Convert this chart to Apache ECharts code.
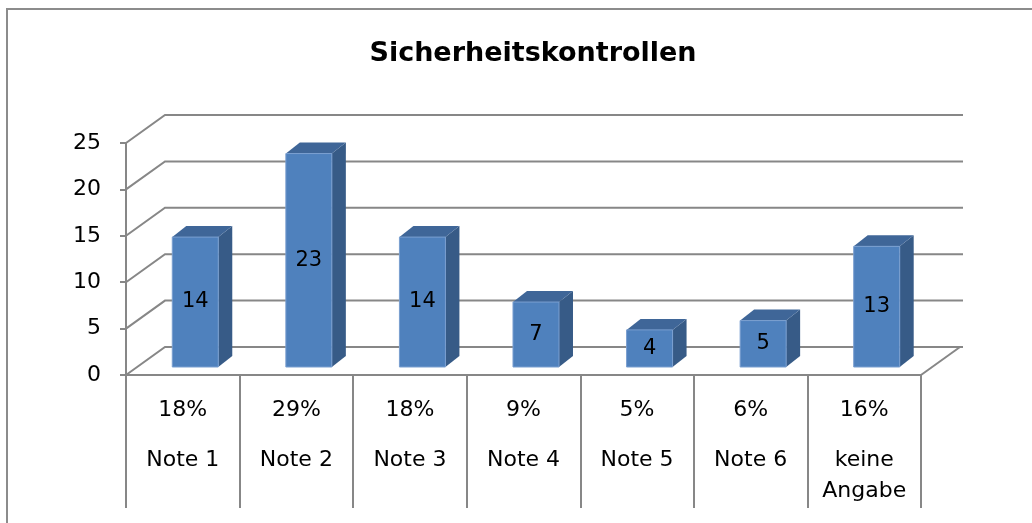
<!DOCTYPE html>
<html>
<head>
<meta charset="utf-8">
<script src="https://cdn.jsdelivr.net/npm/echarts@6/dist/echarts.min.js"></script>
<style>
  html, body { margin: 0; padding: 0; background: #fff; }
  #chart { width: 1032px; height: 523px; }
</style>
</head>
<body>
<div id="chart"></div>
<script>
// data
const categories = ['Note 1', 'Note 2', 'Note 3', 'Note 4', 'Note 5', 'Note 6', 'keine\nAngabe']
const counts = [14, 23, 14, 7, 4, 5, 13]
const percents = ['18%', '29%', '18%', '9%', '5%', '6%', '16%']
const yTicks = [0, 5, 10, 15, 20, 25]

const FONT = 'DejaVu Sans'
const GREY = '#878787'
// depth of the back wall / bars (pseudo 3d)
const WALL_DX = 39, WALL_DY = -28
const BAR_DX = 14, BAR_DY = -11

const myChart = echarts.init(document.getElementById('chart'))

function wallItem(params, api) {
  const cs = params.coordSys
  const y = api.coord([0, api.value(1)])[1]
  const children = [{
    type: 'polyline',
    shape: {
      points: [[cs.x, y], [cs.x + WALL_DX, y + WALL_DY], [cs.x + cs.width + WALL_DX + 3, y + WALL_DY]]
    },
    style: { stroke: GREY, lineWidth: 2, fill: null }
  }]
  if (api.value(1) === 0) {
    children.push({
      type: 'line',
      shape: { x1: cs.x + cs.width, y1: y, x2: cs.x + cs.width + WALL_DX, y2: y + WALL_DY },
      style: { stroke: GREY, lineWidth: 2 }
    })
  }
  return { type: 'group', children: children }
}

function barItem(params, api) {
  const idx = api.value(0)
  const val = api.value(1)
  const base = api.coord([idx, 0])
  const top = api.coord([idx, val])
  const w = api.size([1, 0])[0]
  const bw = w * 0.405
  const x0 = base[0] + w * 0.11 - bw / 2
  const x1 = x0 + bw
  const yb = base[1] - 8
  const yt = top[1] - 8
  return {
    type: 'group',
    children: [
      {
        type: 'polygon',
        shape: { points: [[x1, yt], [x1 + BAR_DX, yt + BAR_DY], [x1 + BAR_DX, yb + BAR_DY], [x1, yb]] },
        style: { fill: '#375B87' }
      },
      {
        type: 'polygon',
        shape: { points: [[x0, yt], [x0 + BAR_DX, yt + BAR_DY], [x1 + BAR_DX, yt + BAR_DY], [x1, yt]] },
        style: { fill: '#3F6698' }
      },
      {
        type: 'rect',
        shape: { x: x0, y: yt, width: bw, height: yb - yt },
        style: { fill: '#4F81BD', stroke: '#7A9FD0', lineWidth: 1 }
      },
      {
        type: 'text',
        style: {
          text: String(val),
          x: (x0 + x1) / 2,
          y: (yt + yb) / 2,
          align: 'center',
          verticalAlign: 'middle',
          fill: '#000',
          fontSize: 21,
          fontFamily: FONT
        }
      }
    ]
  }
}

const options = {
  animation: false,
  title: {
    text: 'Sicherheitskontrollen',
    left: 528,
    top: 35,
    textAlign: 'center',
    textStyle: { fontFamily: FONT, fontSize: 27, fontWeight: 'bold', color: '#000' }
  },
  graphic: [{
    type: 'polyline',
    shape: { points: [[7, 600], [7, 9], [1100, 9]] },
    style: { stroke: '#8C8C8C', lineWidth: 2, fill: null },
    silent: true
  }],
  grid: { left: 126, right: 111, top: 143, bottom: 148 },
  xAxis: {
    type: 'category',
    data: categories,
    axisLine: { lineStyle: { color: GREY, width: 2 } },
    axisTick: { show: true, length: 133, interval: 0, lineStyle: { color: GREY, width: 2 } },
    axisLabel: {
      interval: 0,
      margin: 0,
      formatter: function (val, idx) {
        const lines = val.split('\n').map(function (s) { return '{n|' + s + '}' })
        return '{p|' + percents[idx] + '}\n' + lines.join('\n')
      },
      rich: {
        p: { fontFamily: FONT, fontSize: 22, color: '#000', lineHeight: 70 },
        n: { fontFamily: FONT, fontSize: 22, color: '#000', lineHeight: 31 }
      }
    }
  },
  yAxis: {
    type: 'value',
    min: 0,
    max: 25,
    interval: 5,
    axisLine: { show: true, lineStyle: { color: GREY, width: 2 } },
    axisTick: { show: true, length: 6, lineStyle: { color: GREY, width: 2 } },
    splitLine: { show: false },
    axisLabel: { margin: 25, fontFamily: FONT, fontSize: 22, color: '#000' }
  },
  series: [
    {
      type: 'custom',
      clip: false,
      silent: true,
      z: 1,
      encode: { x: 0, y: 1 },
      data: yTicks.map(function (v) { return [0, v] }),
      renderItem: wallItem
    },
    {
      type: 'custom',
      clip: false,
      z: 3,
      encode: { x: 0, y: 1 },
      data: counts.map(function (v, i) { return [i, v] }),
      renderItem: barItem
    }
  ]
}

myChart.setOption(options)
</script>
</body>
</html>
